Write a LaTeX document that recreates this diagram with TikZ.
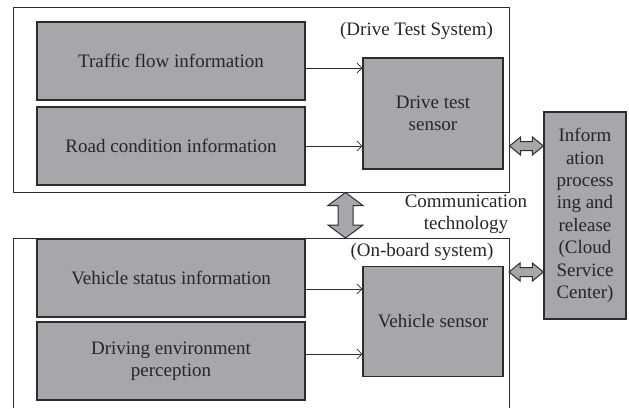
\documentclass[tikz,border=0pt]{standalone}
\usepackage{fontspec}
\setmainfont{Liberation Serif}
\usepackage{xcolor}
\usepackage{tikz}
\usetikzlibrary{calc,arrows.meta}

\definecolor{boxgray}{RGB}{166,167,170}
\definecolor{lineink}{RGB}{45,45,45}
\newcommand{\figfont}{\fontsize{19}{22.4}\selectfont}

\tikzset{
  infobox/.style={draw=lineink, line width=1.2pt, fill=boxgray, inner sep=2pt, align=center, font=\figfont, text=black!85},
  frame/.style={draw=lineink, line width=1pt, inner sep=0pt},
  flow/.style={-{Straight Barb[length=5pt,width=10pt]}, draw=lineink, line width=0.8pt},
  blockarrow/.style={draw=lineink, line width=1pt, fill=boxgray},
  caption/.style={font=\figfont, text=black!85, align=center, inner sep=0pt}
}

% double block arrows
\newcommand{\hblock}[2]{%
  \draw[blockarrow] let \p1=(#1), \p2=(#2) in
    (\x1,\y1) -- (\x1+11pt,\y1+9pt) -- (\x1+11pt,\y1+4.5pt) -- (\x2-11pt,\y1+4.5pt) -- (\x2-11pt,\y1+9pt)
    -- (\x2,\y1) -- (\x2-11pt,\y1-9pt) -- (\x2-11pt,\y1-4.5pt) -- (\x1+11pt,\y1-4.5pt) -- (\x1+11pt,\y1-9pt) -- cycle;}
\newcommand{\vblock}[2]{%
  \draw[blockarrow] let \p1=(#1), \p2=(#2) in
    (\x1,\y1) -- (\x1+17.5pt,\y1-13pt) -- (\x1+7.5pt,\y1-13pt) -- (\x1+7.5pt,\y2+13pt) -- (\x1+17.5pt,\y2+13pt)
    -- (\x1,\y2) -- (\x1-17.5pt,\y2+13pt) -- (\x1-7.5pt,\y2+13pt) -- (\x1-7.5pt,\y1-13pt) -- (\x1-17.5pt,\y1-13pt) -- cycle;}

\begin{document}
\begin{tikzpicture}[x=1pt, y=-1pt]
  \useasboundingbox (0,0) rectangle (629,408);

  % drive test system
  \node[frame, minimum width=496pt, minimum height=185pt] (dts) at (261,99.5) {};
  \node[caption] (dtslabel) at (416.5,31) {(Drive Test System)};
  \node[infobox, minimum width=268pt, minimum height=78pt] (traffic) at (171,61) {Traffic flow information};
  \node[infobox, minimum width=268pt, minimum height=78pt] (road) at (171,146) {Road condition information};
  \node[infobox, minimum width=140pt, minimum height=111pt] (dtsensor) at (433,113.5) {Drive test\\sensor};
  \draw[flow] ([yshift=-7pt]traffic.east) -- ([yshift=-7pt]traffic.east -| dtsensor.west);
  \draw[flow] (road.east) -- (road.east -| dtsensor.west);

  % on-board system (runs off the bottom)
  \coordinate (obl) at (13,408);
  \coordinate (obtl) at (13,238);
  \coordinate (obtr) at (509,238);
  \coordinate (obr) at (509,408);
  \draw[frame] (obl) -- (obtl) -- (obtr) -- (obr);
  \node[caption] (oblabel) at (422,252) {(On-board system)};
  \node[infobox, minimum width=268pt, minimum height=78pt] (vstatus) at (171,278) {Vehicle status information};
  \node[infobox, minimum width=268pt, minimum height=78pt] (drivenv) at (171,361) {Driving environment\\perception};
  \node[infobox, minimum width=140pt, minimum height=110pt] (vsensor) at (433,321.5) {Vehicle sensor};
  \draw[flow] ([yshift=-11pt]vstatus.east) -- ([yshift=-11pt]vstatus.east -| vsensor.west);
  \draw[flow] ([yshift=7pt]drivenv.east) -- ([yshift=7pt]drivenv.east -| vsensor.west);

  % cloud side
  \node[infobox, minimum width=82pt, minimum height=207pt, inner sep=0pt] (cloud) at (585,215.5)
    {Inform\\ation\\process\\ing and\\release\\(Cloud\\Service\\Center)};

  % communication link
  \coordinate (commtop) at (345.5,192.5);
  \coordinate (commbot) at (345.5,238);
  \vblock{commtop}{commbot}
  \node[caption] (commlabel) at (466,214) {Communication\\technology};
  \hblock{dts.east |- road.east}{cloud.west |- road.east}
  \hblock{[yshift=-34pt]obtr}{[yshift=-34pt]obtr -| cloud.west}
\end{tikzpicture}
\end{document}
